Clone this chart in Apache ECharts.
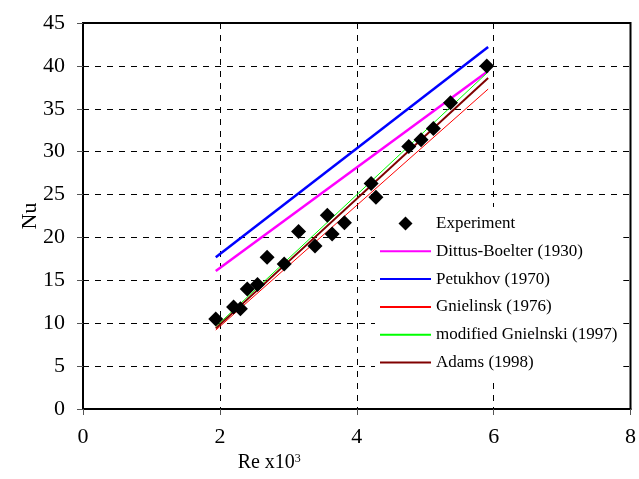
<!DOCTYPE html>
<html>
<head>
<meta charset="utf-8">
<script src="https://cdn.jsdelivr.net/npm/echarts@6/dist/echarts.min.js"></script>
<style>html,body{margin:0;padding:0;background:#fff}#c{width:639px;height:479px}</style>
</head>
<body>
<div id="c"></div>
<script>
const expRe = [1.94, 2.20, 2.30, 2.40, 2.55, 2.69, 2.94, 3.15, 3.39, 3.57, 3.64, 3.82, 4.21, 4.28, 4.76, 4.94, 5.12, 5.37, 5.90];
const expNu = [10.5, 11.9, 11.7, 14.0, 14.5, 17.7, 16.9, 20.7, 19.0, 22.6, 20.4, 21.7, 26.3, 24.7, 30.6, 31.4, 32.7, 35.7, 40.0];
const lineRe = [1.94, 5.92];
const dittusNu = [16.1, 39.4];
const petukhovNu = [17.7, 42.2];
const gnielinskNu = [9.2, 37.3];
const modGnielinskiNu = [9.6, 39.3];
const adamsNu = [9.4, 38.6];
const xTicks = [0, 2, 4, 6, 8];
const yTicks = [0, 5, 10, 15, 20, 25, 30, 35, 40, 45];

const pair = (xs, ys) => xs.map((x, i) => [x, ys[i]]);
const font = "'Liberation Serif', 'Times New Roman', serif";

const lineSeries = (name, ys, color, width) => ({
  name, type: 'line', data: pair(lineRe, ys), symbol: 'none', showSymbol: false,
  lineStyle: { color, width }, itemStyle: { color }, z: 3, animation: false
});
const lineItem = (name) => ({ name, itemStyle: { opacity: 0 } });

const chart = echarts.init(document.getElementById('c'), null, { renderer: 'canvas' });
chart.setOption({
  animation: false,
  backgroundColor: '#fff',
  grid: { left: 83, right: 7, top: 23, bottom: 70, show: true, borderColor: '#000', borderWidth: 2 },
  xAxis: {
    type: 'value', min: xTicks[0], max: xTicks[xTicks.length - 1], interval: 2,
    name: '{a|Re x10}{s|3}', nameLocation: 'middle', nameGap: 38,
    nameTextStyle: { padding: [0, 175, 0, 0], rich: {
      a: { fontFamily: font, fontSize: 20, color: '#000' },
      s: { fontFamily: font, fontSize: 12, color: '#000', verticalAlign: 'top', padding: [0, 0, 8, 0] }
    } },
    axisLine: { onZero: false, lineStyle: { color: '#000', width: 2 } },
    axisTick: { show: true, length: 6, inside: false, lineStyle: { color: '#555', width: 1 } },
    axisLabel: { fontFamily: font, fontSize: 22, color: '#000', margin: 17 },
    splitLine: { show: true, lineStyle: { color: '#000', type: [6, 6], width: 1 } }
  },
  yAxis: {
    type: 'value', min: yTicks[0], max: yTicks[yTicks.length - 1], interval: 5,
    name: 'Nu', nameLocation: 'middle', nameGap: 42, nameRotate: 90, nameMoveOverlap: false,
    nameTextStyle: { fontFamily: font, fontSize: 22, color: '#000' },
    axisLine: { onZero: false, lineStyle: { color: '#000', width: 2 } },
    axisTick: { show: true, length: 6, lineStyle: { color: '#555', width: 1 } },
    axisLabel: { fontFamily: font, fontSize: 22, color: '#000', margin: 18 },
    splitLine: { show: true, lineStyle: { color: '#000', type: [6, 6], width: 1 } }
  },
  legend: {
    orient: 'vertical', left: 375, top: 207, itemWidth: 51, itemHeight: 14, itemGap: 10.8,
    padding: [8, 6, 10, 4], backgroundColor: '#fff',
    symbolKeepAspect: true,
    textStyle: { fontFamily: font, fontSize: 17, color: '#000' },
    data: [
      { name: 'Experiment', icon: 'path://M0,-1L1,0L0,1L-1,0Z' },
      lineItem('Dittus-Boelter (1930)'),
      lineItem('Petukhov (1970)'),
      lineItem('Gnielinsk (1976)'),
      lineItem('modified Gnielnski (1997)'),
      lineItem('Adams (1998)')
    ]
  },
  series: [
    lineSeries('Dittus-Boelter (1930)', dittusNu, '#FF00FF', 2.5),
    lineSeries('Petukhov (1970)', petukhovNu, '#0000FF', 2.5),
    lineSeries('Gnielinsk (1976)', gnielinskNu, '#FF0000', 1),
    lineSeries('modified Gnielnski (1997)', modGnielinskiNu, '#00FF00', 1),
    lineSeries('Adams (1998)', adamsNu, '#800000', 2),
    { name: 'Experiment', type: 'scatter', data: pair(expRe, expNu), symbol: 'diamond', symbolSize: 15,
      itemStyle: { color: '#000', opacity: 1 }, z: 4 }
  ]
});
</script>
</body>
</html>
